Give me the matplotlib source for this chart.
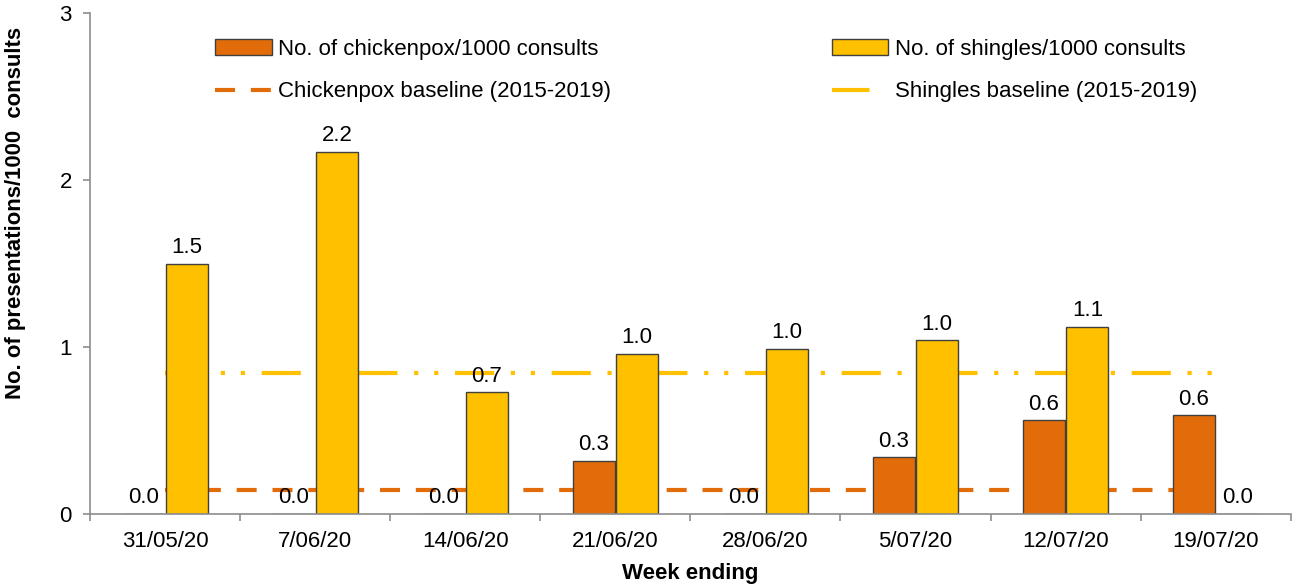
import matplotlib.pyplot as plt
from matplotlib.lines import Line2D
import numpy as np

# Data
weeks = ["31/05/20", "7/06/20", "14/06/20", "21/06/20",
         "28/06/20", "5/07/20", "12/07/20", "19/07/20"]
chickenpox = [0.0, 0.0, 0.0, 0.32, 0.0, 0.34, 0.56, 0.59]
shingles = [1.50, 2.17, 0.73, 0.96, 0.99, 1.04, 1.12, 0.0]
chickenpox_baseline = [0.144] * len(weeks)
shingles_baseline = [0.844] * len(weeks)

cp_color = "#E36C0A"
sh_color = "#FFC000"

plt.rcParams['font.family'] = ['Liberation Sans', 'DejaVu Sans']

fig = plt.figure(figsize=(12.92, 5.86), dpi=100)
ax = fig.add_axes([90 / 1292, 1 - 514 / 586, 1 - 90 / 1292 - 0.001, (514 - 13) / 586])

x = np.arange(len(weeks))
w = 0.28
off = 0.145

# Baselines drawn behind the bars
cp_line, = ax.plot(x, chickenpox_baseline, color=cp_color, lw=3, dashes=(4.8, 3.8),
                   label="Chickenpox baseline (2015-2019)", zorder=1)
ax.plot(x, shingles_baseline, color=sh_color, lw=3,
        dashes=(9.4, 4.0, 1.0, 3.8, 1.0, 4.0), zorder=1)

b1 = ax.bar(x - off, chickenpox, w, color=cp_color, edgecolor="#404040", lw=1,
            label="No. of chickenpox/1000 consults", zorder=2)
b2 = ax.bar(x + off, shingles, w, color=sh_color, edgecolor="#404040", lw=1,
            label="No. of shingles/1000 consults", zorder=2)

# Data labels
for xi, v in zip(x - off, chickenpox):
    ax.annotate(f"{v:.1f}", (xi, v), xytext=(0, 4), textcoords="offset points",
                ha="center", va="bottom", fontsize=16, zorder=3)
for xi, v in zip(x + off, shingles):
    ax.annotate(f"{v:.1f}", (xi, v), xytext=(0, 4), textcoords="offset points",
                ha="center", va="bottom", fontsize=16, zorder=3)

ax.set_xlim(-0.5, len(weeks) - 0.5)
ax.set_ylim(0, 3)
ax.set_yticks([0, 1, 2, 3])
ax.set_xticks(x)
ax.set_xticklabels(weeks)
ax.set_xticks(np.arange(len(weeks) + 1) - 0.5, minor=True)

for s in ["top", "right"]:
    ax.spines[s].set_visible(False)
for s in ["left", "bottom"]:
    ax.spines[s].set_color("#8C8C8C")
    ax.spines[s].set_linewidth(1.2)

ax.tick_params(axis="x", which="major", length=0, pad=12, labelsize=16)
ax.tick_params(axis="x", which="minor", length=5, color="#8C8C8C", width=1.2)
ax.tick_params(axis="y", length=5, color="#8C8C8C", width=1.2, labelsize=16, pad=8)

ax.set_ylabel("No. of presentations/1000  consults", fontsize=15.9, fontweight="bold")
ax.yaxis.set_label_coords(-0.053, 0.601)
ax.set_xlabel("Week ending", fontsize=16, fontweight="bold", labelpad=8)

# legend shows only the first long dash of the shingles baseline
sh_handle = Line2D([], [], color=sh_color, lw=3, dashes=(9.0, 30))
handles = [b1, cp_line, b2, sh_handle]
labels = ["No. of chickenpox/1000 consults", "Chickenpox baseline (2015-2019)",
          "No. of shingles/1000 consults", "Shingles baseline (2015-2019)"]
ax.legend(handles, labels, ncol=2, frameon=False, loc="upper left",
          bbox_to_anchor=(0.104, 0.948), borderpad=0, borderaxespad=0,
          fontsize=16, handlelength=2.55, handletextpad=0.3,
          labelspacing=0.96, columnspacing=9.92)

fig.savefig("out.png", dpi=100)
